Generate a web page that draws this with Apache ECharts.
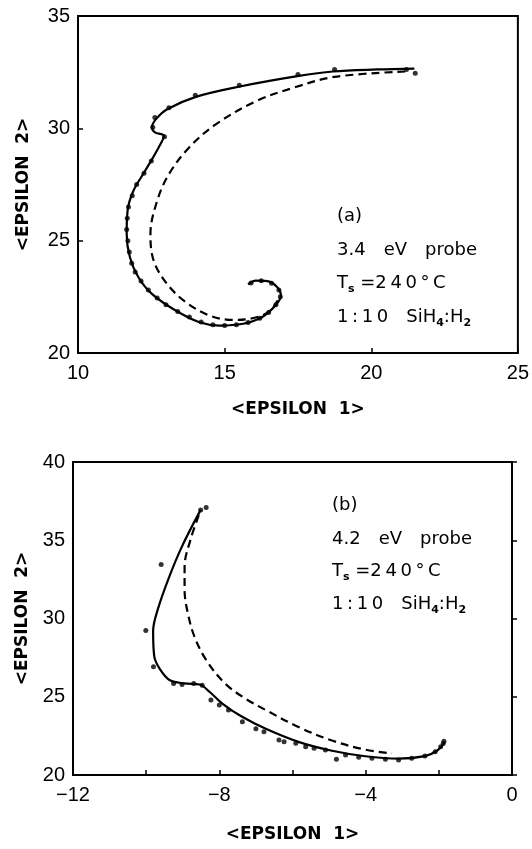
<!DOCTYPE html>
<html>
<head>
<meta charset="utf-8">
<script src="https://cdn.jsdelivr.net/npm/echarts@6/dist/echarts.min.js"></script>
<style>
  html, body { margin: 0; padding: 0; background: #fff; }
  #chart1 { width: 532px; height: 849px; }
</style>
</head>
<body>
<div id="chart1"></div>
<script>
// (a) 3.4 eV probe -- 读图得到的点 [eps1, eps2]
var topSolid = [
    [21.47, 32.66], [20.2, 32.62], [18.69, 32.53], [17.48, 32.32], [15.52, 31.86],
    [14.02, 31.40], [13.04, 30.85], [12.66, 30.41], [12.52, 30.04], [12.64, 29.81],
    [12.93, 29.67], [12.75, 29.15], [12.29, 28.11], [11.89, 27.22], [11.69, 26.33],
    [11.66, 25.30], [11.77, 24.26], [12.06, 23.37], [12.52, 22.63], [13.33, 21.89],
    [14.14, 21.37], [14.83, 21.22], [15.63, 21.30], [16.27, 21.59], [16.73, 22.11],
    [16.92, 22.56], [16.78, 22.95], [16.45, 23.20], [16.06, 23.22], [15.80, 23.05]
];
var topDashed = [
    [21.16, 32.53], [18.74, 32.29], [17.36, 31.81], [16.09, 31.22], [14.71, 30.19],
    [13.79, 29.15], [13.10, 27.96], [12.70, 26.78], [12.47, 25.30], [12.58, 24.11],
    [13.04, 23.07], [13.68, 22.26], [14.48, 21.67], [15.29, 21.47], [16.09, 21.59],
    [16.56, 21.89], [16.84, 22.41]
];
var topDots = [
    [21.5, 32.45], [21.2, 32.62], [18.75, 32.62], [17.5, 32.40], [15.5, 31.92],
    [14.0, 31.47], [13.1, 30.92], [12.62, 30.48], [12.55, 30.05], [12.95, 29.62],
    [12.5, 28.55], [12.25, 28.0], [12.0, 27.5], [11.85, 27.0], [11.72, 26.5],
    [11.68, 26.0], [11.66, 25.5], [11.7, 25.0], [11.75, 24.5], [11.83, 24.0],
    [11.95, 23.6], [12.15, 23.2], [12.4, 22.8], [12.7, 22.45], [13.0, 22.15],
    [13.4, 21.85], [13.8, 21.6], [14.2, 21.38], [14.6, 21.26], [15.0, 21.22],
    [15.4, 21.26], [15.8, 21.36], [16.2, 21.55], [16.5, 21.8], [16.75, 22.15],
    [16.9, 22.5], [16.85, 22.8], [16.6, 23.1], [16.25, 23.22], [15.9, 23.12]
];

// (b) 4.2 eV probe
var botSolid = [
    [-8.51, 36.94], [-9.02, 34.61], [-9.38, 32.60], [-9.68, 30.60], [-9.81, 29.20],
    [-9.78, 27.60], [-9.62, 26.75], [-9.35, 26.05], [-8.95, 25.85], [-8.54, 25.78],
    [-8.27, 25.32], [-7.91, 24.55], [-7.40, 23.75], [-6.73, 22.95], [-5.82, 22.10],
    [-4.92, 21.55], [-4.01, 21.20], [-3.10, 21.05], [-2.38, 21.21], [-2.05, 21.55],
    [-1.85, 22.05]
];
var botDashed = [
    [-8.56, 36.60], [-8.78, 35.10], [-8.95, 33.31], [-8.95, 31.82], [-8.86, 30.33],
    [-8.68, 28.84], [-8.36, 27.35], [-7.85, 25.86], [-7.30, 24.90], [-6.73, 24.15],
    [-5.82, 23.05], [-4.92, 22.20], [-4.01, 21.62], [-3.28, 21.38]
];
var botDots = [
    [-8.36, 37.09], [-8.51, 36.94], [-9.59, 33.45], [-10.01, 29.23], [-9.80, 26.91],
    [-9.25, 25.85], [-9.02, 25.79], [-8.70, 25.85], [-8.47, 25.74], [-8.23, 24.79],
    [-8.00, 24.47], [-7.75, 24.15], [-7.37, 23.41], [-7.00, 22.95], [-6.78, 22.77],
    [-6.37, 22.24], [-6.23, 22.13], [-5.91, 22.03], [-5.64, 21.81], [-5.41, 21.71],
    [-5.10, 21.60], [-4.80, 21.00], [-4.55, 21.28], [-4.19, 21.13], [-3.83, 21.07],
    [-3.46, 21.00], [-3.10, 20.96], [-2.74, 21.07], [-2.38, 21.21], [-2.10, 21.49],
    [-1.95, 21.80], [-1.88, 22.02], [-1.86, 22.15]
];

var topXTicks = [10, 25, 5];   // min, max, interval
var topYTicks = [20, 35, 5];
var botXTicks = [-12, 0, 2];
var botYTicks = [20, 40, 5];

var labelFont = 'Liberation Sans';
var noteFont = 'DejaVu Sans';

function xAxisCfg(grid, t, fmt, gap) {
    return {
        gridIndex: grid, type: 'value', min: t[0], max: t[1], interval: t[2],
        name: '<EPSILON  1>', nameLocation: 'middle', nameGap: gap,
        nameTextStyle: { color: '#000', fontSize: 17, fontFamily: noteFont, fontWeight: 'bold' },
        axisLine: { show: false },
        axisTick: { show: true, inside: true, length: 5, lineStyle: { color: '#000', width: 1.5 } },
        axisLabel: { color: '#000', fontSize: 20, fontFamily: labelFont, margin: 10,
                     showMinLabel: true, showMaxLabel: true, formatter: fmt },
        splitLine: { show: false }
    };
}
function yAxisCfg(grid, t, gap) {
    return {
        gridIndex: grid, type: 'value', min: t[0], max: t[1], interval: t[2],
        name: '<EPSILON  2>', nameLocation: 'middle', nameGap: gap,
        nameTextStyle: { color: '#000', fontSize: 17, fontFamily: noteFont, fontWeight: 'bold' },
        axisLine: { show: false },
        axisTick: { show: true, inside: true, length: 5, lineStyle: { color: '#000', width: 1.5 } },
        axisLabel: { color: '#000', fontSize: 20, fontFamily: labelFont, margin: 8,
                     showMinLabel: true, showMaxLabel: true },
        splitLine: { show: false }
    };
}

function lineSeries(xi, data, dashed) {
    return {
        type: 'line', xAxisIndex: xi, yAxisIndex: xi, data: data,
        smooth: 0.35, symbol: 'none', silent: true, animation: false,
        lineStyle: { color: '#000', width: 2.2, type: dashed ? [8, 5] : 'solid' }
    };
}
function dotSeries(xi, data) {
    return {
        type: 'scatter', xAxisIndex: xi, yAxisIndex: xi, data: data,
        symbol: 'circle', symbolSize: 5, animation: false,
        itemStyle: { color: '#000' }
    };
}

var rich = {
    n: { fontSize: 18, fontFamily: noteFont, color: '#000', lineHeight: 22 },
    w: { fontSize: 18, fontFamily: noteFont, color: '#000', lineHeight: 22, width: 18 },
    s: { fontSize: 11, fontFamily: noteFont, color: '#000', fontWeight: 'bold', padding: [12, 0, 0, 0], lineHeight: 22 }
};
// 字间加细空格，模拟原图较宽的字体
function wide(str) {
    return str.split('').join('\u2009');
}
function note(x, y, text) {
    return { type: 'text', x: x, y: y, style: { text: text, rich: rich, verticalAlign: 'middle', fill: '#000' } };
}

var option = {
    backgroundColor: '#fff',
    animation: false,
    grid: [
        { left: 78, top: 16, width: 441, height: 337, show: true, borderColor: '#000', borderWidth: 2, backgroundColor: 'transparent' },
        { left: 73, top: 462, width: 439, height: 313, show: true, borderColor: '#000', borderWidth: 2, backgroundColor: 'transparent' }
    ],
    xAxis: [
        xAxisCfg(0, topXTicks, null, 48),
        xAxisCfg(1, botXTicks, function (v) {
            if (v % 4 !== 0) return '';
            return v < 0 ? '\u2212' + Math.abs(v) : String(v);
        }, 51)
    ],
    yAxis: [
        yAxisCfg(0, topYTicks, 46),
        yAxisCfg(1, botYTicks, 42)
    ],
    series: [
        lineSeries(0, topSolid, false),
        lineSeries(0, topDashed, true),
        dotSeries(0, topDots),
        lineSeries(1, botSolid, false),
        lineSeries(1, botDashed, true),
        dotSeries(1, botDots)
    ],
    graphic: [
        note(337, 216, '{n|(a)}'),
        note(337, 250, '{n|3.4}{w| }{n|eV}{w| }{n|probe}'),
        note(337, 283, '{n|T}{s|s}{n| =' + wide('240°C') + '}'),
        note(337, 317, '{n|' + wide('1:10') + '}{w| }{n|SiH}{s|4}{n|:H}{s|2}'),
        note(332, 505, '{n|(b)}'),
        note(332, 539, '{n|4.2}{w| }{n|eV}{w| }{n|probe}'),
        note(332, 571, '{n|T}{s|s}{n| =' + wide('240°C') + '}'),
        note(332, 604, '{n|' + wide('1:10') + '}{w| }{n|SiH}{s|4}{n|:H}{s|2}')
    ]
};

var myChart = echarts.init(document.getElementById('chart1'));
myChart.setOption(option);
</script>
</body>
</html>
